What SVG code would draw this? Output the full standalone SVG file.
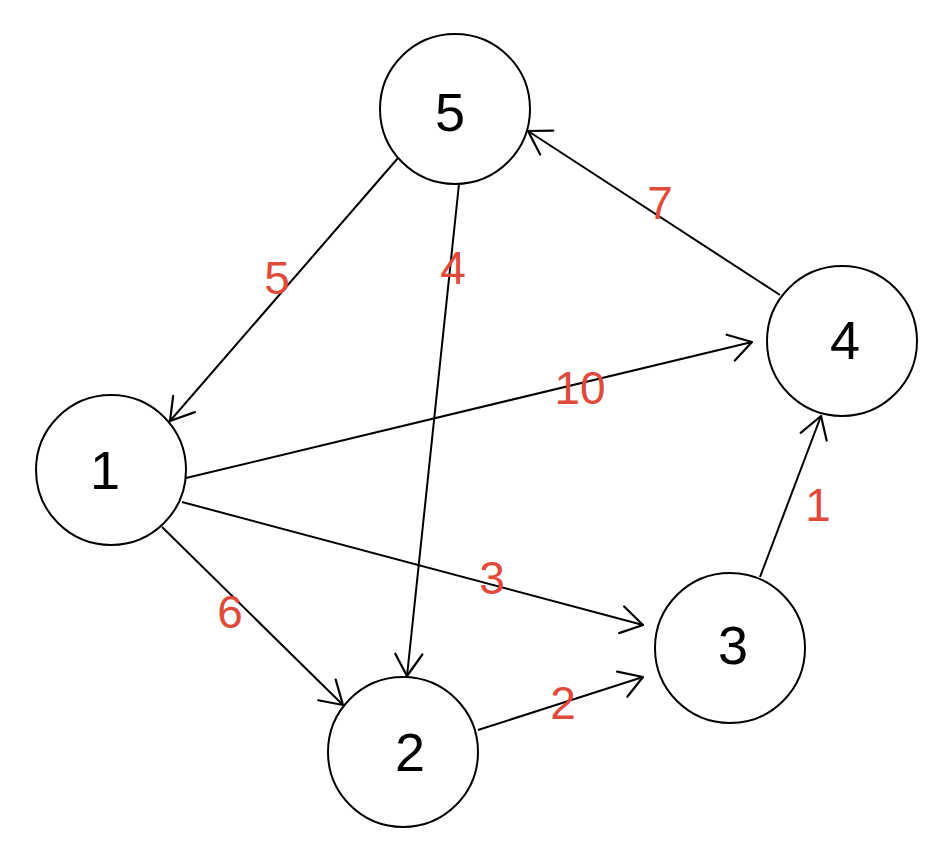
<svg xmlns="http://www.w3.org/2000/svg" width="950" height="847" viewBox="0 0 950 847">
<style>
.node circle{fill:#fff;stroke:#000;stroke-width:2}
.node text{font-family:"Liberation Sans",Arial,sans-serif;font-size:54px;fill:#000;text-anchor:middle;dominant-baseline:central}
.edge line{stroke:#000;stroke-width:2;fill:none}
.lbl{font-family:"Liberation Sans",Arial,sans-serif;font-size:46px;fill:#e04a3a;text-anchor:middle;dominant-baseline:central}
</style>
<defs>
<marker id="arr" viewBox="-30 -18 34 36" markerWidth="34" markerHeight="36" refX="0" refY="0" orient="auto" markerUnits="userSpaceOnUse">
<path d="M-23,-13 L0,0 L-21,14" fill="none" stroke="#000" stroke-width="2.2" stroke-linecap="round" stroke-linejoin="round"/>
</marker>
</defs>
<g id="connectors" class="edge">
<line x1="398" y1="158" x2="170" y2="421" marker-end="url(#arr)"/>
<line x1="459" y1="184" x2="407" y2="676" marker-end="url(#arr)"/>
<line x1="780" y1="295" x2="528" y2="131" marker-end="url(#arr)"/>
<line x1="186" y1="478" x2="752" y2="342" marker-end="url(#arr)"/>
<line x1="182" y1="502" x2="643" y2="625" marker-end="url(#arr)"/>
<line x1="162" y1="527" x2="343" y2="705" marker-end="url(#arr)"/>
<line x1="478" y1="730" x2="643" y2="677" marker-end="url(#arr)"/>
<line x1="760" y1="577" x2="821" y2="416" marker-end="url(#arr)"/>
</g>
<g id="edge-labels">
<text class="lbl" x="277" y="278">5</text>
<text class="lbl" x="453" y="268">4</text>
<text class="lbl" x="660" y="203">7</text>
<text class="lbl" x="580" y="388">10</text>
<text class="lbl" x="492" y="578">3</text>
<text class="lbl" x="230" y="612">6</text>
<text class="lbl" x="563" y="703">2</text>
<text class="lbl" x="818" y="505">1</text>
</g>
<g id="node-5" class="node"><circle cx="455" cy="109" r="75"/><text x="450" y="112">5</text></g>
<g id="node-4" class="node"><circle cx="842" cy="341" r="75"/><text x="845" y="340">4</text></g>
<g id="node-1" class="node"><circle cx="111" cy="470" r="75"/><text x="105" y="470">1</text></g>
<g id="node-3" class="node"><circle cx="730" cy="648" r="75"/><text x="733" y="645">3</text></g>
<g id="node-2" class="node"><circle cx="403" cy="752" r="75"/><text x="410" y="752">2</text></g>
</svg>
